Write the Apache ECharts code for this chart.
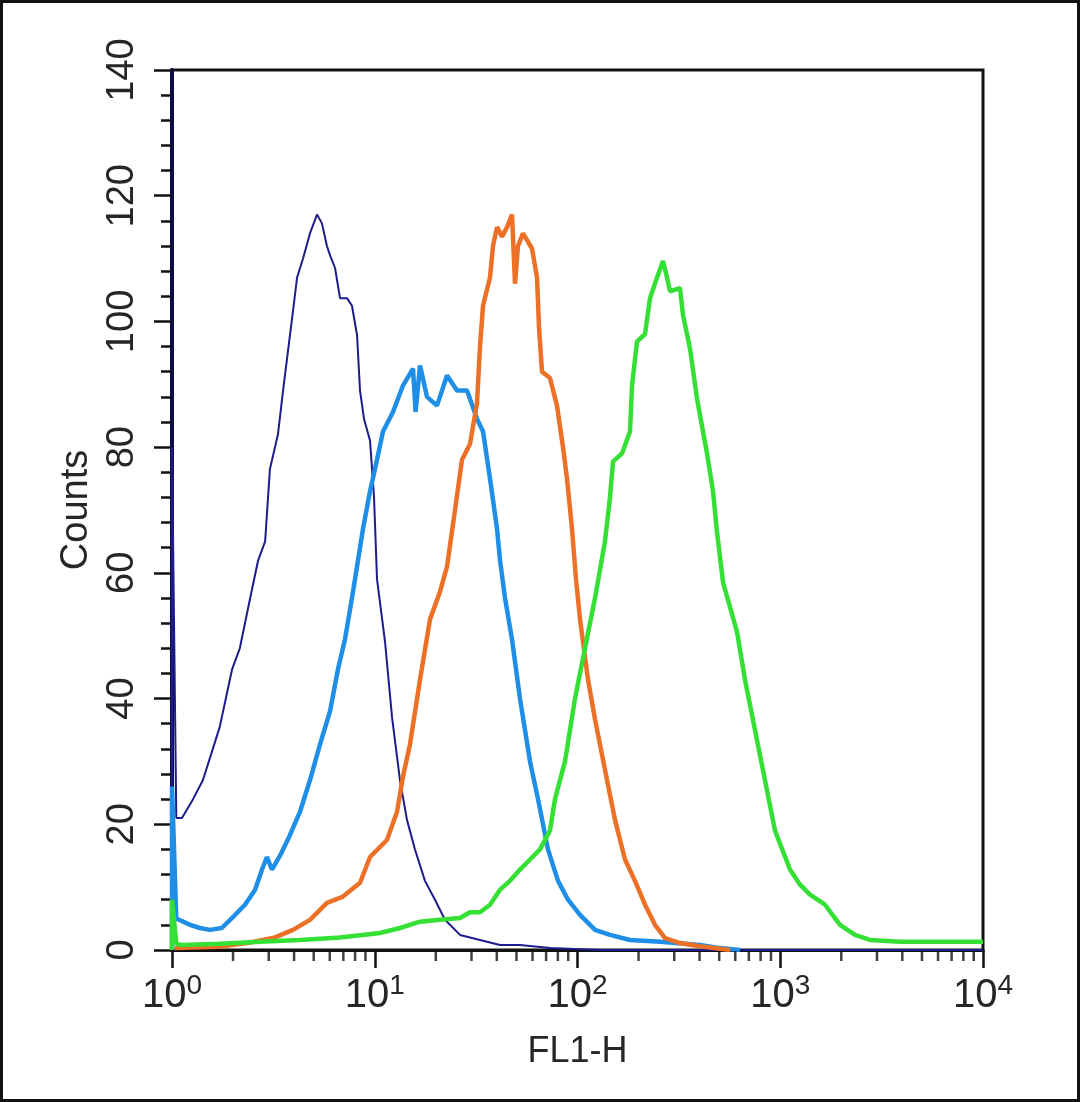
<!DOCTYPE html>
<html>
<head>
<meta charset="utf-8">
<script src="https://cdn.jsdelivr.net/npm/echarts@6/dist/echarts.min.js"></script>
<style>
  html, body { margin: 0; padding: 0; background: #fff; }
  #chart { width: 1080px; height: 1102px; }
</style>
</head>
<body>
<div id="chart"></div>
<script>
// [FL1-H, counts]
const isotype = [
  [1, 0], [1, 80], [1.02, 80], [1.05, 21], [1.12, 21], [1.27, 24], [1.42, 27], [1.59, 32], [1.72, 35.5],
  [1.98, 44.7], [2.16, 48], [2.43, 56], [2.66, 62], [2.88, 65], [3.04, 76.5], [3.33, 82], [3.53, 89],
  [3.69, 94], [3.95, 101.6], [4.14, 107], [4.43, 110], [4.79, 114], [5.19, 117], [5.49, 115.6], [5.81, 112],
  [6.02, 110.5], [6.37, 108.5], [6.74, 103.7], [7.3, 103.7], [7.72, 102.5], [8.18, 97.8], [8.46, 89],
  [8.85, 84.5], [9.48, 81], [9.92, 72], [10.26, 59], [11.24, 49], [12.17, 37], [13.32, 27], [14.42, 20.7],
  [15.79, 16], [17.69, 11], [19.82, 8], [22.21, 4.8], [26.34, 2.4], [33.04, 1.6], [41.48, 0.8], [52.04, 0.8],
  [73.16, 0.3], [129.1, 0], [10000, 0]
]
const lowExpr = [
  [1, 0], [1, 26], [1.02, 26], [1.05, 5], [1.23, 4], [1.37, 3.5], [1.54, 3.2], [1.76, 3.5], [2.05, 5.6],
  [2.29, 7.2], [2.57, 9.6], [2.78, 12.8], [2.94, 14.8], [3.11, 12.8], [3.41, 15], [3.82, 18.3], [4.28, 22],
  [4.79, 27], [5.37, 32.7], [6.02, 38], [6.59, 44.7], [7.13, 49.4], [7.72, 56], [8.27, 62], [8.75, 67],
  [9.48, 73], [10.26, 78], [10.98, 82.5], [12.3, 85.6], [13.78, 89.8], [15.44, 92.5], [15.9, 85.6],
  [16.72, 93], [18.1, 88], [20.28, 86.6], [22.72, 91.4], [25.45, 89], [28.51, 89], [31.94, 84.5],
  [34.2, 82.5], [37.02, 75], [40.09, 67], [41.48, 62], [43.9, 56], [47.53, 49.4], [52.04, 40], [58.31, 30],
  [63.87, 24], [71.51, 16], [80.14, 11], [89.79, 8], [102.9, 5.6], [122, 3.2], [144.6, 2.4], [181.5, 1.6],
  [255.3, 1.3], [402, 0.8], [504.6, 0.3], [633, 0]
]
const midExpr = [
  [1.03, 0.3], [1.72, 0.5], [2.43, 1.2], [3.22, 2], [3.95, 3.2], [4.79, 4.8], [5.81, 7.5], [6.97, 8.5],
  [8.46, 10.7], [9.48, 14.8], [11.49, 17.5], [12.88, 22], [13.78, 27.6], [14.92, 32.7], [16.72, 43],
  [18.73, 52.6], [20.98, 57], [22.72, 61], [24.88, 70], [26.94, 78], [29.5, 80.5], [31.94, 87], [33.04, 96],
  [34.2, 102.5], [37.02, 107], [38.3, 112], [40.09, 115], [42.44, 113.5], [44.93, 115], [47.53, 117],
  [49.18, 106], [50.88, 112], [53.85, 114], [59.66, 111.6], [63.14, 107], [64.59, 99], [66.83, 92],
  [73.16, 91], [79.21, 86.6], [84.82, 80], [88.76, 75], [93.95, 67], [98.31, 59], [102.9, 52.6],
  [112.7, 43], [122, 36.7], [136.6, 28.7], [153.1, 20.7], [171.5, 14.4], [192.1, 11], [215.3, 7.2],
  [241.1, 4], [270.2, 1.9], [320.3, 1.1], [402, 0.6], [565, 0]
]
const highExpr = [
  [1, 0], [1, 8], [1.02, 8], [1.05, 1], [1.1, 0.8], [1.72, 1], [2.72, 1.3], [4.28, 1.6], [6.74, 2],
  [10.61, 2.7], [13.32, 3.5], [16.72, 4.5], [20.98, 4.8], [26.34, 5.1], [29.5, 6], [33.04, 6], [37.02, 7.2],
  [41.48, 9.6], [46.46, 11], [52.04, 12.8], [58.31, 14.4], [65.31, 16], [73.16, 19], [77.45, 24],
  [86.77, 30], [97.2, 40], [108.9, 48], [122, 56], [136.6, 65], [144.6, 72], [149.7, 77.7], [165.8, 79],
  [181.5, 82.5], [185.7, 89.8], [196.6, 96.8], [215.3, 98], [227.9, 103.7], [246.7, 107], [264.1, 109.6],
  [276.4, 107], [285.9, 104.8], [320.3, 105.3], [331.4, 101], [358.8, 95.7], [388.6, 87.7], [435.3, 79],
  [465.9, 73], [487.5, 66.5], [522.1, 58.5], [611.9, 50.6], [670, 43], [750.6, 35], [840.8, 27],
  [942.1, 19], [1117, 12.8], [1252, 10.4], [1402, 8.8], [1662, 7.2], [1971, 4], [2337, 2.4],
  [2772, 1.6], [3896, 1.3], [6137, 1.3], [10000, 1.3]
]

// log minor ticks (2..9 in each decade)
const minorTicks = []
for (const dec of [1, 10, 100, 1000]) {
  for (let k = 2; k <= 9; k++) minorTicks.push([dec * k, 0])
}

const chart = echarts.init(document.getElementById('chart'), null, { renderer: 'canvas' })

const FONT = 'Liberation Sans, Arial, sans-serif'
const TXT = '#262626'

const line = (data, color, width) => ({
  type: 'line',
  data,
  showSymbol: false,
  symbol: 'none',
  lineStyle: { color, width },
  animation: false,
})

chart.setOption({
  animation: false,
  graphic: [{
    type: 'rect',
    shape: { x: 1.5, y: 1.5, width: 1077, height: 1099 },
    style: { fill: 'none', stroke: '#111', lineWidth: 3 },
  }],
  grid: {
    left: 172, right: 97, top: 70, bottom: 152,
    show: true, borderColor: '#111', borderWidth: 3,
  },
  xAxis: {
    type: 'log', logBase: 10, min: 1, max: 10000,
    name: 'FL1-H', nameLocation: 'middle', nameGap: 84,
    nameTextStyle: { fontSize: 36, color: TXT, fontFamily: FONT },
    axisLine: { lineStyle: { color: '#111', width: 3 } },
    axisTick: { length: 18, lineStyle: { color: '#111', width: 2.5 } },
    minorTick: { show: false },
    splitLine: { show: false },
    axisLabel: {
      margin: 22,
      color: TXT,
      fontFamily: FONT,
      formatter: v => '{b|10}{s|' + Math.round(Math.log10(v)) + '}',
      rich: {
        b: { fontSize: 40, color: TXT, fontFamily: FONT, verticalAlign: 'bottom', lineHeight: 44 },
        s: { fontSize: 28, color: TXT, fontFamily: FONT, verticalAlign: 'top', lineHeight: 44 },
      },
    },
  },
  yAxis: {
    type: 'value', min: 0, max: 140, interval: 20,
    name: 'Counts', nameLocation: 'middle', nameGap: 76, nameRotate: 90,
    nameTextStyle: { fontSize: 38, color: TXT, fontFamily: FONT },
    axisLine: { show: true, lineStyle: { color: '#0c0c4a', width: 4 } },
    axisTick: { show: true, length: 18, lineStyle: { color: '#111', width: 2.5 } },
    minorTick: { show: true, splitNumber: 5, length: 11, lineStyle: { color: '#111', width: 2.5 } },
    splitLine: { show: false },
    axisLabel: { rotate: 90, margin: 30, fontSize: 38, color: TXT, fontFamily: FONT },
  },
  series: [
    line(isotype, '#1e1c8c', 2),
    line(lowExpr, '#1e8ee6', 4.5),
    line(midExpr, '#ec7026', 4.5),
    line(highExpr, '#35e035', 4.5),
    {
      type: 'scatter',
      data: minorTicks,
      symbol: 'rect',
      symbolSize: [2.5, 10],
      symbolOffset: [0, 6],
      itemStyle: { color: '#111' },
      clip: false,
      silent: true,
      z: 5,
    },
  ],
})
</script>
</body>
</html>
